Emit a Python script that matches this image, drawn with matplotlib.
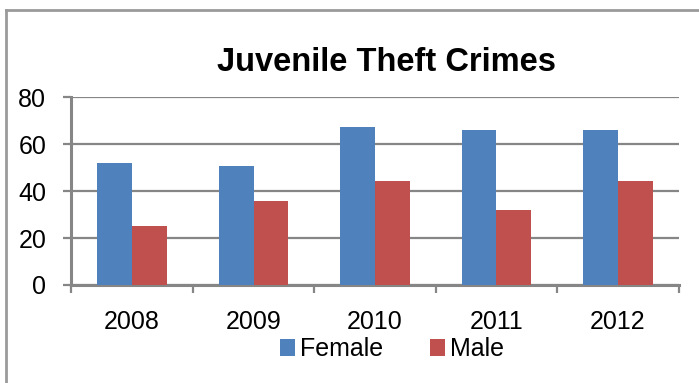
import numpy as np
import matplotlib
matplotlib.use('Agg')
import matplotlib.pyplot as plt
from matplotlib.lines import Line2D

# Data
years = ['2008', '2009', '2010', '2011', '2012']
female = [52, 50.5, 67.5, 66, 66]
male = [25, 36, 44.5, 32, 44.5]

blue = '#4F81BD'
red = '#C0504D'
grey = '#868686'

plt.rcParams['font.family'] = ['Liberation Sans', 'DejaVu Sans']

fig = plt.figure(figsize=(6.99, 3.83), dpi=100)
ax = fig.add_axes([0.102, 0.256, 0.869, 0.490])

x = np.arange(len(years))
w = 0.285
ax.bar(x - w / 2, female, w, color=blue, label='Female', zorder=3)
ax.bar(x + w / 2, male, w, color=red, label='Male', zorder=3)

ax.set_xlim(-0.5, len(years) - 0.5)
ax.set_ylim(0, 80)
ax.set_yticks([0, 20, 40, 60, 80])
ax.yaxis.grid(True, color=grey, linewidth=1.6, zorder=0)

# category ticks sit between groups
ax.set_xticks(np.arange(-0.5, len(years), 1.0))
ax.set_xticklabels([])
ax.set_xticks(x, minor=True)
ax.set_xticklabels(years, minor=True, fontsize=18)
ax.tick_params(axis='x', which='major', length=6, width=1.6, color=grey, direction='out')
ax.tick_params(axis='x', which='minor', length=0, pad=18)
ax.tick_params(axis='y', length=6, width=1.6, color=grey, labelsize=18, pad=12)

for side in ['top', 'right']:
    ax.spines[side].set_visible(False)
for side in ['left', 'bottom']:
    ax.spines[side].set_color(grey)
    ax.spines[side].set_linewidth(2.2)

fig.text(0.553, 0.838, 'Juvenile Theft Crimes', ha='center', va='center',
         fontsize=23.5, fontweight='bold')

fig.legend(loc='center', bbox_to_anchor=(0.561, 0.088), ncol=2, frameon=False,
           fontsize=18, handlelength=0.6, handleheight=0.7, handletextpad=0.2,
           columnspacing=1.9)

# outer chart border
fig.add_artist(Line2D([0.008, 0.008], [0, 0.973], transform=fig.transFigure,
                      color='#9a9a9a', linewidth=2))
fig.add_artist(Line2D([0.008, 1.0], [0.973, 0.973], transform=fig.transFigure,
                      color='#9a9a9a', linewidth=2))

fig.savefig('out.png', dpi=100)
